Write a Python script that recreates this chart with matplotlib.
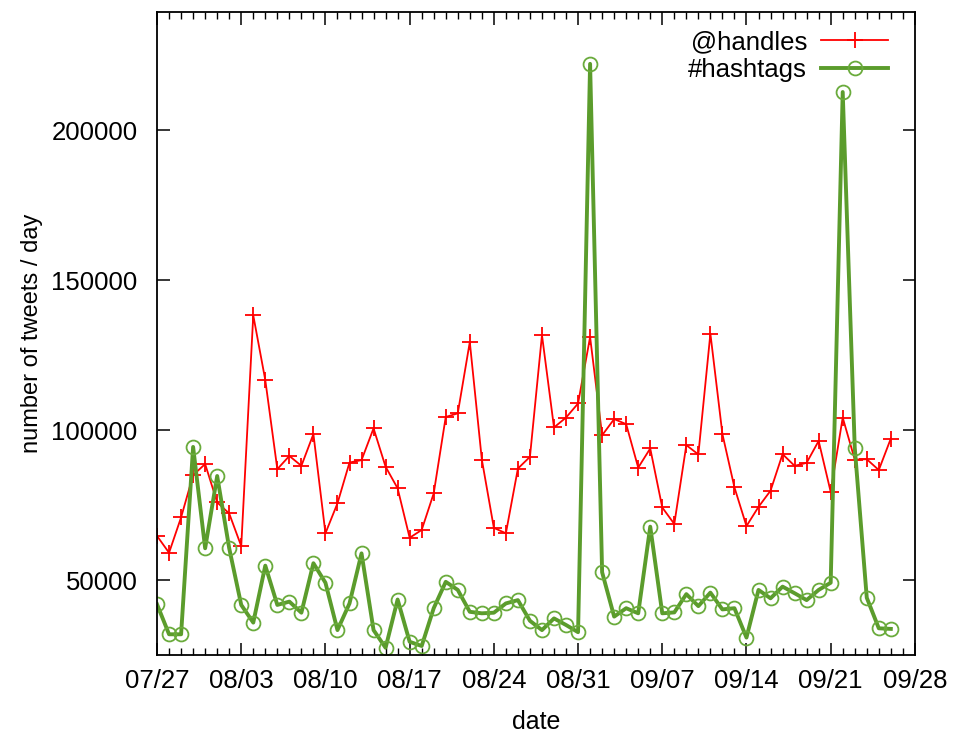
import matplotlib
matplotlib.use("Agg")
import matplotlib.pyplot as plt
import matplotlib.dates as mdates
import numpy as np
import datetime as dt

start_date = "2013-07-27"
n_days = 62

handles = [64700, 59100, 70900, 85000, 88700, 75900, 72200, 61300, 138300, 116700,
           87000, 91400, 88100, 98700, 65600, 75600, 89200, 90000, 100600, 87800,
           80600, 64100, 66700, 78900, 104400, 105600, 129400, 90200, 67400, 65600,
           87200, 91100, 131700, 100900, 104200, 108900, 131100, 98300, 103700, 102000,
           87500, 93900, 74200, 68700, 95000, 91900, 132200, 98700, 80900, 68000,
           74400, 79800, 92000, 88100, 89100, 96400, 79400, 104200, 90200, 90300,
           86700, 97200]

hashtags = [41900, 31900, 31900, 94400, 60600, 84700, 60600, 41700, 35800, 54800,
            41700, 42800, 39100, 55600, 49100, 33300, 42200, 58900, 33300, 27400,
            43500, 29400, 28000, 40600, 49400, 46700, 39400, 38900, 39100, 42200,
            43300, 36400, 33300, 37200, 35000, 32600, 222200, 52600, 37800, 40600,
            38900, 67800, 38900, 39200, 45300, 41300, 45800, 40200, 40600, 30800,
            46700, 43900, 47800, 45600, 43300, 46700, 49100, 212800, 94200, 44100,
            33900, 33700]

tick_labels = ["07/27", "08/03", "08/10", "08/17", "08/24", "08/31",
               "09/07", "09/14", "09/21", "09/28"]

d0 = dt.datetime.strptime(start_date, "%Y-%m-%d")
dates = [d0 + dt.timedelta(days=i) for i in range(n_days)]

plt.rcParams['font.family'] = ['Liberation Sans', 'DejaVu Sans']

fig = plt.figure(figsize=(9.54, 7.4), dpi=100)
ax = fig.add_axes([0.1646, 0.1149, 0.7944, 0.8689])

ax.plot(dates, handles, color='#ff0000', lw=1.3, marker='+', ms=11, mew=1.3,
        label='@handles')
ax.plot(dates, hashtags, color='#5b9c2c', lw=2.8, marker='o', ms=10, mew=1.3,
        mfc='none', mec='#6aab3c', label='#hashtags')

ax.set_xlim(d0, d0 + dt.timedelta(days=63))
ax.set_ylim(25000, 239500)

major = [d0 + dt.timedelta(days=7 * i) for i in range(len(tick_labels))]
ax.set_xticks(major)
ax.set_xticklabels(tick_labels)
ax.xaxis.set_minor_locator(mdates.DayLocator())
ax.set_yticks([50000, 100000, 150000, 200000])
ax.set_yticklabels(["50000", "100000", "150000", "200000"])

ax.tick_params(axis='both', which='major', direction='in', length=9, width=1.1,
               top=True, right=True, labelsize=18.5, colors='black')
ax.tick_params(axis='y', which='major', pad=14)
ax.tick_params(axis='x', which='major', pad=10)
ax.tick_params(axis='x', which='minor', direction='in', length=5, width=1.0,
               top=True, bottom=True)
for s in ax.spines.values():
    s.set_linewidth(1.3)

ax.set_xlabel('date', fontsize=18, labelpad=12)
ax.set_ylabel('number of tweets / day', fontsize=17, labelpad=6)

leg = ax.legend(loc='upper right', frameon=False, markerfirst=False, fontsize=18.5,
                handlelength=2.6, borderaxespad=0.0, labelspacing=0.15,
                handletextpad=0.55, bbox_to_anchor=(0.978, 0.988))

fig.savefig('out.png', dpi=100)
